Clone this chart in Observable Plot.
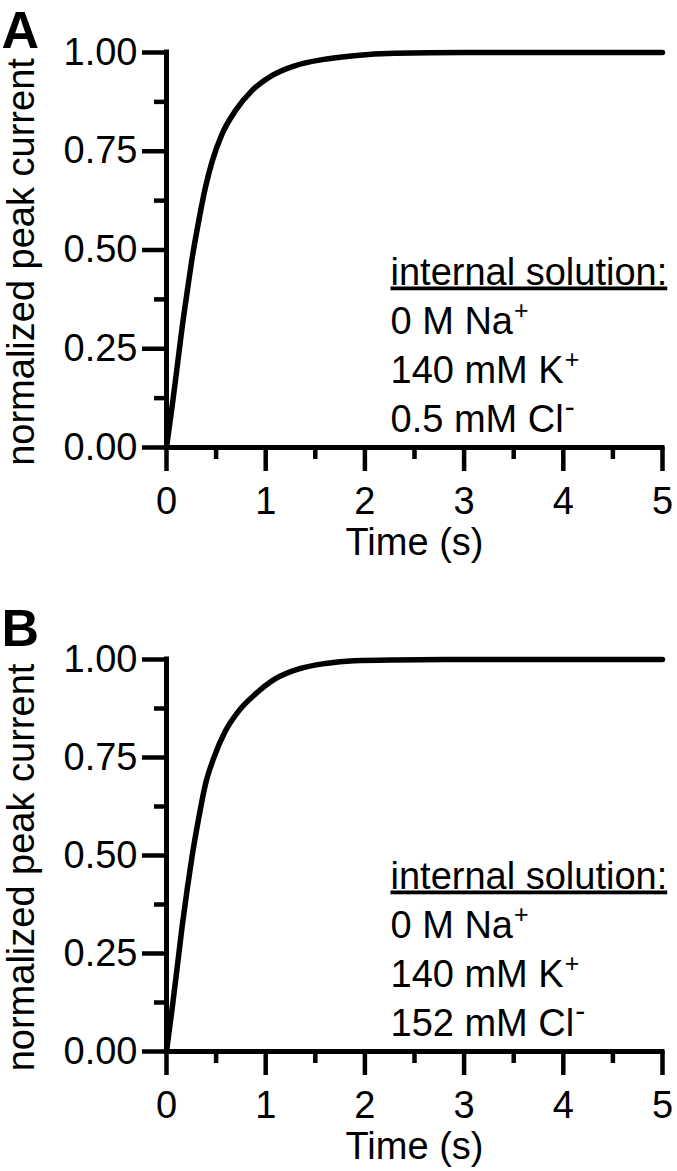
<!DOCTYPE html>
<html><head><meta charset="utf-8">
<script src="https://cdn.jsdelivr.net/npm/d3@7"></script>
<script src="https://cdn.jsdelivr.net/npm/@observablehq/plot@0.6"></script>
<style>
body{margin:0;background:#fff}
#chart svg{display:block}
</style>
</head><body><div id="chart"></div>
<script>
// ---- data ----
const timeA    = [0, 0.057, 0.108, 0.158, 0.209, 0.259, 0.326, 0.393, 0.461, 0.561, 0.696, 0.864, 1.066, 1.30, 1.57, 1.89, 2.3, 3, 4, 5];
const currentA = [0, 0.105, 0.205, 0.305, 0.395, 0.480, 0.575, 0.659, 0.725, 0.794, 0.853, 0.904, 0.942, 0.967, 0.982, 0.992, 0.998, 1, 1, 1];
const timeB    = [0, 0.057, 0.108, 0.158, 0.209, 0.259, 0.326, 0.393, 0.477, 0.595, 0.729, 0.897, 1.099, 1.334, 1.603, 1.89, 2.3, 3, 4, 5];
const currentB = [0, 0.110, 0.215, 0.320, 0.415, 0.500, 0.597, 0.682, 0.749, 0.818, 0.869, 0.912, 0.951, 0.976, 0.990, 0.997, 0.999, 1, 1, 1];
const panelLetters = ["A", "B"];
const xMajorTicks = [0, 1, 2, 3, 4, 5];
const xMinorTicks = [0.5, 1.5, 2.5, 3.5, 4.5];
const yMajorTicks = [0, 0.25, 0.5, 0.75, 1];
const yMinorTicks = [0.125, 0.375, 0.625, 0.875];
const xLabel = "Time (s)";
const yLabel = "normalized peak current";
const legendTitle = "internal solution:";
const solutionA = ["0 M Na^+", "140 mM K^+", "0.5 mM Cl^-"];
const solutionB = ["0 M Na^+", "140 mM K^+", "152 mM Cl^-"];

const FONT = "'Liberation Sans', Arial, Helvetica, sans-serif";
const FS = 38;

function panel(time, current, letter, lines, o) {
  const pts = time.map((t, i) => ({t, v: current[i]}));
  const legendLines = [legendTitle, ...lines];
  const legendDy = [-163, -114, -65, -16];
  const svg = Plot.plot({
    width: 677, height: o.height,
    marginLeft: 166, marginRight: 15, marginTop: o.marginTop, marginBottom: o.marginBottom,
    style: {fontFamily: FONT, background: "white", color: "black", overflow: "visible"},
    x: {domain: [0, 5]},
    y: {domain: [0, 1]},
    marks: [
      Plot.axisY(yMajorTicks, {tickSize: 24, tickPadding: 5, tickFormat: d3.format(".2f"), fontSize: FS, strokeWidth: 4.5, label: null}),
      Plot.axisY(yMinorTicks, {tickSize: 12, tickFormat: () => "", strokeWidth: 4.5, label: null}),
      Plot.axisX(xMajorTicks, {tickSize: 24, tickPadding: 16, tickFormat: d3.format("d"), fontSize: FS, strokeWidth: 4.5, label: null}),
      Plot.axisX(xMinorTicks, {tickSize: 12, tickFormat: () => "", strokeWidth: 4.5, label: null}),
      Plot.ruleX([0], {y1: 0, y2: 1, strokeWidth: 5, strokeLinecap: "square"}),
      Plot.ruleY([0], {x1: 0, x2: 5, strokeWidth: 5, strokeLinecap: "square"}),
      Plot.line(pts, {x: "t", y: "v", strokeWidth: 5.5, curve: "monotone-x"}),
      Plot.text([yLabel], {text: d => d, frameAnchor: "left", rotate: -90, textAnchor: "middle", lineAnchor: "bottom", dx: -133, dy: 12, fontSize: FS}),
      Plot.text([xLabel], {text: d => d, frameAnchor: "bottom", lineAnchor: "bottom", dy: 107, fontSize: FS}),
      Plot.text([letter], {text: d => d, frameAnchor: "top-left", textAnchor: "start", lineAnchor: "bottom", dx: -165, dy: o.letterDy, fontSize: 52, fontWeight: "bold"}),
      ...legendLines.map((s, i) => Plot.text([s], {text: d => d, frameAnchor: "bottom-left", textAnchor: "start", lineAnchor: "bottom", dx: 224, dy: legendDy[i], fontSize: FS}))
    ]
  });
  // superscripts and underline
  d3.select(svg).selectAll("text").each(function() {
    const el = this;
    const txt = el.textContent;
    if (txt === legendTitle) {
      el.setAttribute("text-decoration", "underline");
    } else if (txt.includes("^")) {
      const [base, sup] = txt.split("^");
      el.textContent = base;
      const ts = document.createElementNS("http://www.w3.org/2000/svg", "tspan");
      ts.setAttribute("font-size", sup === "-" ? "30" : "25");
      ts.setAttribute("dy", "-15");
      ts.setAttribute("dx", "1");
      ts.textContent = sup;
      el.appendChild(ts);
    }
  });
  return svg;
}

const chart = document.getElementById("chart");
chart.appendChild(panel(timeA, currentA, panelLetters[0], solutionA, {height: 590, marginTop: 52, marginBottom: 143, letterDy: -5}));
chart.appendChild(panel(timeB, currentB, panelLetters[1], solutionB, {height: 581, marginTop: 69, marginBottom: 120, letterDy: -14}));
</script>
</body></html>
